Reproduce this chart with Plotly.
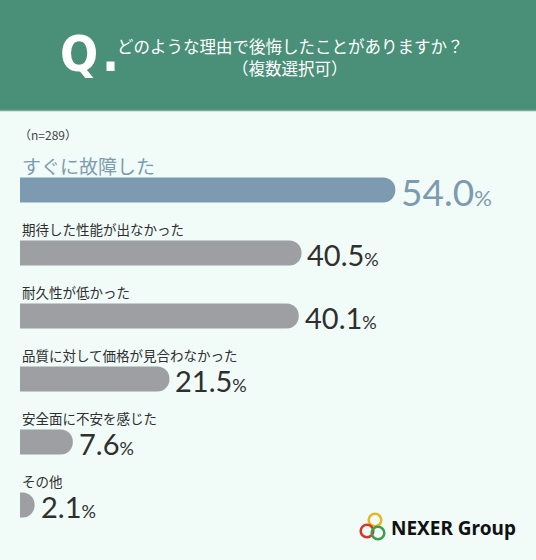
import plotly.graph_objects as go

# データ
reasons = ["すぐに故障した", "期待した性能が出なかった", "耐久性が低かった",
           "品質に対して価格が見合わなかった", "安全面に不安を感じた", "その他"]
shares = [54.0, 40.5, 40.1, 21.5, 7.6, 2.1]
question = ["どのような理由で後悔したことがありますか？", "（複数選択可）"]
sample = "（n=289）"

W, H = 536, 560
PX = 6.95          # 1% あたりのピクセル
ROW0, STEP = 190, 63

BG = "#f1fbf8"
GREEN = "#4a8f78"
BLUE = "#7d9bb0"
GRAY = "#9e9fa3"
DARK = "#2f2f2f"
JP = "Noto Sans CJK JP"

colors = [BLUE] + [GRAY] * (len(shares) - 1)

fig = go.Figure(go.Bar(
    x=shares, y=reasons, orientation="h",
    marker=dict(color=colors, cornerradius="50%", line_width=0),
    width=25 / STEP, hoverinfo="skip",
))


def px_x(p):
    return p / W


def px_y(p):
    return 1 - p / H


# ヘッダー
shapes = [
    dict(type="rect", xref="paper", yref="paper", x0=0, x1=1,
         y0=px_y(110), y1=1, fillcolor=GREEN, line_width=0, layer="below"),
    dict(type="line", xref="paper", yref="paper", x0=0, x1=1,
         y0=px_y(110.5), y1=px_y(110.5), line=dict(color="#7fa898", width=1.5)),
]

# ロゴの輪
for cx, cy, col in [(375, 520, "#e8b722"), (367, 531, "#d9362b"), (378, 533, "#3aa047")]:
    r = 6.3
    shapes.append(dict(type="circle", xref="paper", yref="paper",
                       x0=px_x(cx - r), x1=px_x(cx + r),
                       y0=px_y(cy + r), y1=px_y(cy - r),
                       line=dict(color=col, width=2.6)))

QFONT = dict(family="Liberation Sans Narrow, DejaVu Sans Condensed, sans-serif",
             size=50, color="white")
ann = [
    dict(text="<b>Q</b>", x=px_x(58), y=px_y(54), xanchor="left", yanchor="middle", font=QFONT),
    dict(text="<b>.</b>", x=px_x(100), y=px_y(54), xanchor="left", yanchor="middle", font=QFONT),
    dict(text=question[0], x=px_x(290), y=px_y(46), xanchor="center", yanchor="middle",
         font=dict(family=JP, size=16.5, color="white")),
    dict(text=question[1], x=px_x(290), y=px_y(68), xanchor="center", yanchor="middle",
         font=dict(family=JP, size=16.5, color="white")),
    dict(text=sample, x=px_x(17), y=px_y(134), xanchor="left", yanchor="middle",
         font=dict(family=JP, size=12, color="#444444")),
    dict(text="<b>NEXER Group</b>", x=px_x(389), y=px_y(528), xanchor="left", yanchor="middle",
         font=dict(family="Noto Sans", size=19, color="#111111")),
]

for i, (name, v) in enumerate(zip(reasons, shares)):
    first = i == 0
    ann.append(dict(
        text=name, x=0, y=name, xref="x", yref="y", xanchor="left", yanchor="middle",
        yshift=25 if first else 24, showarrow=False,
        font=dict(family=JP, size=19 if first else 13.5, color=BLUE if first else DARK)))
    big, small = (37, 22) if first else (29, 18)
    ann.append(dict(
        text=f"{v:.1f}<span style='font-size:{small}px'>%</span>",
        x=v, y=name, xref="x", yref="y", xanchor="left", yanchor="middle",
        xshift=4, yshift=-1.5, showarrow=False,
        font=dict(family="Lato, sans-serif", size=big, color=BLUE if first else DARK)))

for a in ann:
    a.setdefault("xref", "paper")
    a.setdefault("yref", "paper")
    a["showarrow"] = False

fig.update_layout(
    width=W, height=H, margin=dict(l=0, r=0, t=0, b=0),
    paper_bgcolor=BG, plot_bgcolor="rgba(0,0,0,0)",
    showlegend=False, shapes=shapes, annotations=ann,
    xaxis=dict(range=[-20 / PX, (W - 20) / PX], visible=False, fixedrange=True),
    yaxis=dict(type="category", range=[(H - ROW0) / STEP, -ROW0 / STEP],
               visible=False, fixedrange=True),
)

fig.write_html("out.html", config={"displayModeBar": False},
               post_script="document.body.style.margin='0';")
